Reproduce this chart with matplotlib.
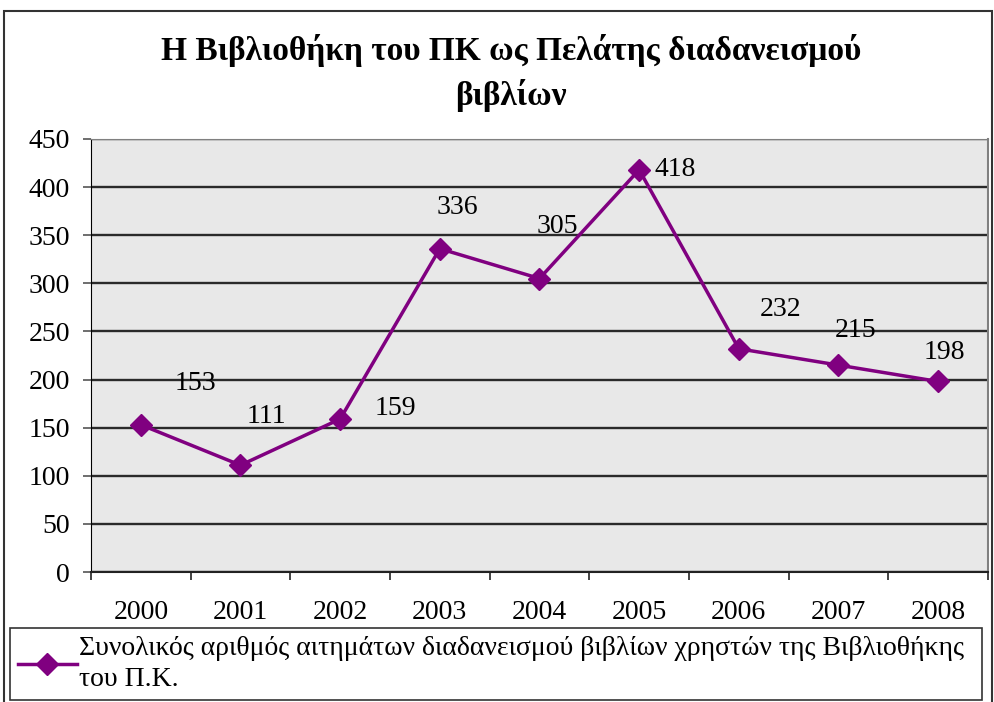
import matplotlib.pyplot as plt
from matplotlib.patches import Rectangle

# data
years = ["2000", "2001", "2002", "2003", "2004", "2005", "2006", "2007", "2008"]
requests = [153, 111, 159, 336, 305, 418, 232, 215, 198]
# label offsets in pixels (x, y) as placed in the original
label_offsets = [(55, 41), (26, 49), (55, 11), (18, 41), (18, 52), (36, 0), (42, 39), (17, 35), (6, 29)]

title = "Η Βιβλιοθήκη του ΠΚ ως Πελάτης διαδανεισμού\nβιβλίων"
series_name = "Συνολικός αριθμός αιτημάτων διαδανεισμού βιβλίων χρηστών της Βιβλιοθήκης\nτου Π.Κ."

plt.rcParams['font.family'] = ['Liberation Serif', 'DejaVu Serif']
purple = '#800080'
fs = 20

fig = plt.figure(figsize=(9.95, 7.02), dpi=100)
ax = fig.add_axes([91/995, 1-572/702, 897/995, 433/702])
ax.set_facecolor('#E8E8E8')

x = list(range(len(years)))
line, = ax.plot(x, requests, color=purple, lw=2.5, marker='D', markersize=11.5,
                label=series_name, zorder=5, clip_on=False)

for i, v in enumerate(requests):
    dx, dy = label_offsets[i]
    ax.annotate(str(v), (i, v), xytext=(dx * 0.72, dy * 0.72), textcoords='offset points',
                ha='center', va='center', fontsize=fs)

ax.set_xlim(-0.5, len(years) - 0.5)
ax.set_ylim(0, 450)
ax.set_yticks(range(0, 451, 50))
ax.yaxis.grid(True, color='#2a2a2a', lw=1.7)
ax.set_axisbelow(True)

# ticks between categories, labels centred on them
ax.set_xticks([i - 0.5 for i in range(len(years) + 1)])
ax.set_xticklabels([])
ax.set_xticks(x, minor=True)
ax.set_xticklabels(years, minor=True)
ax.tick_params(axis='x', which='major', direction='out', length=6, width=1.2, color='#222222')
ax.tick_params(axis='x', which='minor', length=0, pad=20, labelsize=fs)
ax.tick_params(axis='y', direction='out', length=6, width=1.2, color='#555555', pad=9, labelsize=fs)

ax.spines['left'].set_color('black')
ax.spines['bottom'].set_color('#222222')
ax.spines['bottom'].set_linewidth(1.5)
ax.spines['top'].set_color('#808080')
ax.spines['right'].set_color('#808080')
ax.spines['right'].set_linewidth(1.5)

fig.text(511/995, 1-73/702, title, ha='center', va='center', fontsize=24,
         fontweight='bold', linespacing=1.45)

leg = fig.legend(handles=[line], loc='lower left',
                 bbox_to_anchor=(10/995, 2/702, 972/995, 73/702), mode='expand',
                 borderaxespad=0, fancybox=False, edgecolor='#333333', fontsize=fs,
                 handlelength=2.1, handletextpad=0.1, borderpad=0.3, framealpha=1)
leg.get_frame().set_linewidth(1.2)
leg.get_texts()[0].set_linespacing(1.3)

# outer chart border
fig.patches.append(Rectangle((4/995, -0.01), 988/995, (702-11)/702 + 0.01, transform=fig.transFigure,
                             fill=False, edgecolor='#333333', lw=1.5))

fig.savefig('out.png', dpi=100)
